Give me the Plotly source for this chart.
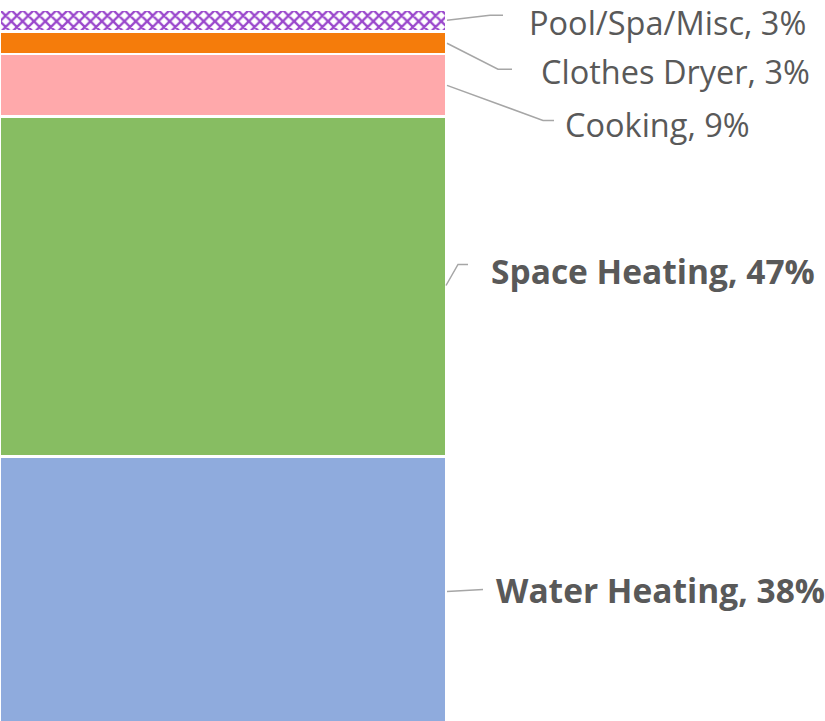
import plotly.graph_objects as go

# Data (bottom to top)
categories = ["Water Heating", "Space Heating", "Cooking", "Clothes Dryer", "Pool/Spa/Misc"]
shares = [38.4, 46.9, 8.6, 3.1, 3.0]
colors = ["#8FABDD", "#87BD62", "#FFA9AB", "#F57C0B", "#9A47CC"]
bold = [True, True, False, False, False]

# label placement (pixel offsets relative to segment centre)
label_x_px = [494, 489, 563, 539, 527]
label_dy_px = [6, 16, -39, -29, -1.6]
leader_paths = [
    [(447, 4), (483, 6)],
    [(446, 1), (458, 22), (468, 22)],
    [(447, 0), (543, -35), (554, -35)],
    [(447, -0.3), (498, -26.3), (512, -26.3)],
    [(447, 0.6), (490, 5.6), (503, 5.6)],
]

W, H = 825, 721
fig = go.Figure()
base = 0.0
centers = []
for cat, val, col in zip(categories, shares, colors):
    marker = dict(color=col, line=dict(color="white", width=2.5))
    if cat == "Pool/Spa/Misc":
        marker = dict(color="white", line=dict(color="white", width=2.5),
                      pattern=dict(shape="x", fgcolor=col, bgcolor="white",
                                   size=8, solidity=0.5, fillmode="replace",
                                   fgopacity=1))
    fig.add_trace(go.Bar(x=[0], y=[val], name=cat, marker=marker, width=1.0,
                         hoverinfo="skip"))
    centers.append(base + val / 2)
    base += val

annotations = []
shapes = []
for cat, val, c, b, lx, dy, path in zip(categories, shares, centers, bold,
                                         label_x_px, label_dy_px, leader_paths):
    txt = f"{cat}, {round(val)}%"
    if b:
        txt = f"<b>{txt}</b>"
    annotations.append(dict(x=lx / W, xref="paper", y=c, yref="y", yshift=dy,
                            text=txt, showarrow=False, xanchor="left",
                            yanchor="middle",
                            font=dict(family="Open Sans", size=33.5 if b else 32.5,
                                      color="#595959")))
    p = "M " + " L ".join(f"{x},{y}" for x, y in path)
    shapes.append(dict(type="path", xref="paper", yref="y", xsizemode="pixel",
                       ysizemode="pixel", xanchor=0, yanchor=c, path=p,
                       line=dict(color="#A6A6A6", width=1.5)))

fig.update_layout(
    width=W, height=H, barmode="stack", showlegend=False,
    margin=dict(l=0, r=0, t=10, b=0),
    paper_bgcolor="white", plot_bgcolor="white",
    xaxis=dict(domain=[0, 446 / W], range=[-0.5, 0.5], visible=False),
    yaxis=dict(range=[1.9, 100.0], visible=False),
    annotations=annotations, shapes=shapes,
)
fig.write_html("out.html", config={"displayModeBar": False},
               post_script="document.body.style.margin='0px';document.body.style.overflow='hidden';")
